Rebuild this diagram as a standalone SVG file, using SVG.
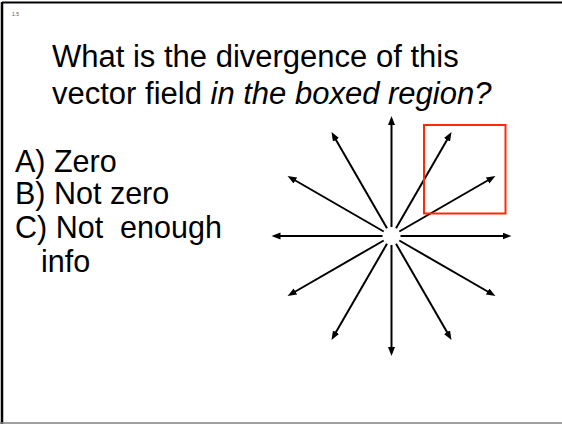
<svg xmlns="http://www.w3.org/2000/svg" width="562" height="424" viewBox="0 0 562 424">
<defs>
<style>
.t{font-family:"Liberation Sans",Arial,sans-serif;fill:#000}
.q{font-size:31px}
.o{font-size:30.5px}
.v{stroke:#000;stroke-width:2;fill:none;marker-end:url(#ah)}
</style>
<marker id="ah" markerUnits="userSpaceOnUse" markerWidth="10" markerHeight="8" refX="4" refY="3.5" orient="auto" viewBox="0 0 10 8">
<path d="M0,0 L9,3.5 L0,7 z" fill="#000"/>
</marker>
</defs>
<rect x="0" y="0" width="562" height="424" fill="#fff"/>
<g id="frame">
<line x1="2" y1="2.5" x2="562" y2="2.5" stroke="#000" stroke-width="2"/>
<line x1="2" y1="2" x2="2" y2="424" stroke="#000" stroke-width="2.5"/>
<line x1="0" y1="423" x2="562" y2="423" stroke="#808080" stroke-width="1.5"/>
</g>
<text class="t" x="12" y="16" font-size="5" style="fill:#555">1.5</text>
<g id="question">
<text class="t q" x="52" y="67">What is the divergence of this</text>
<text class="t q" x="52" y="104">vector field <tspan font-style="italic">in the boxed region?</tspan></text>
</g>
<g id="options">
<text class="t o" x="15" y="172">A) Zero</text>
<text class="t o" x="15" y="204">B) Not zero</text>
<text class="t o" x="15" y="238" xml:space="preserve">C) Not  enough</text>
<text class="t o" x="41" y="272">info</text>
</g>
<g id="vectors" transform="translate(391.5,236)">
<line class="v" x1="9" y1="0" x2="115" y2="0"/>
<line class="v" x1="7.8" y1="-4.5" x2="99.6" y2="-57.5"/>
<line class="v" x1="4.5" y1="-7.8" x2="57.5" y2="-99.6"/>
<line class="v" x1="0" y1="-9" x2="0" y2="-115"/>
<line class="v" x1="-4.5" y1="-7.8" x2="-57.5" y2="-99.6"/>
<line class="v" x1="-7.8" y1="-4.5" x2="-99.6" y2="-57.5"/>
<line class="v" x1="-9" y1="0" x2="-115" y2="0"/>
<line class="v" x1="-7.8" y1="4.5" x2="-99.6" y2="57.5"/>
<line class="v" x1="-4.5" y1="7.8" x2="-57.5" y2="99.6"/>
<line class="v" x1="0" y1="9" x2="0" y2="115"/>
<line class="v" x1="4.5" y1="7.8" x2="57.5" y2="99.6"/>
<line class="v" x1="7.8" y1="4.5" x2="99.6" y2="57.5"/>
</g>
<g id="box">
<rect x="424" y="125" width="81.5" height="88.5" fill="none" stroke="#ff2a00" stroke-width="2"/>
</g>
</svg>
